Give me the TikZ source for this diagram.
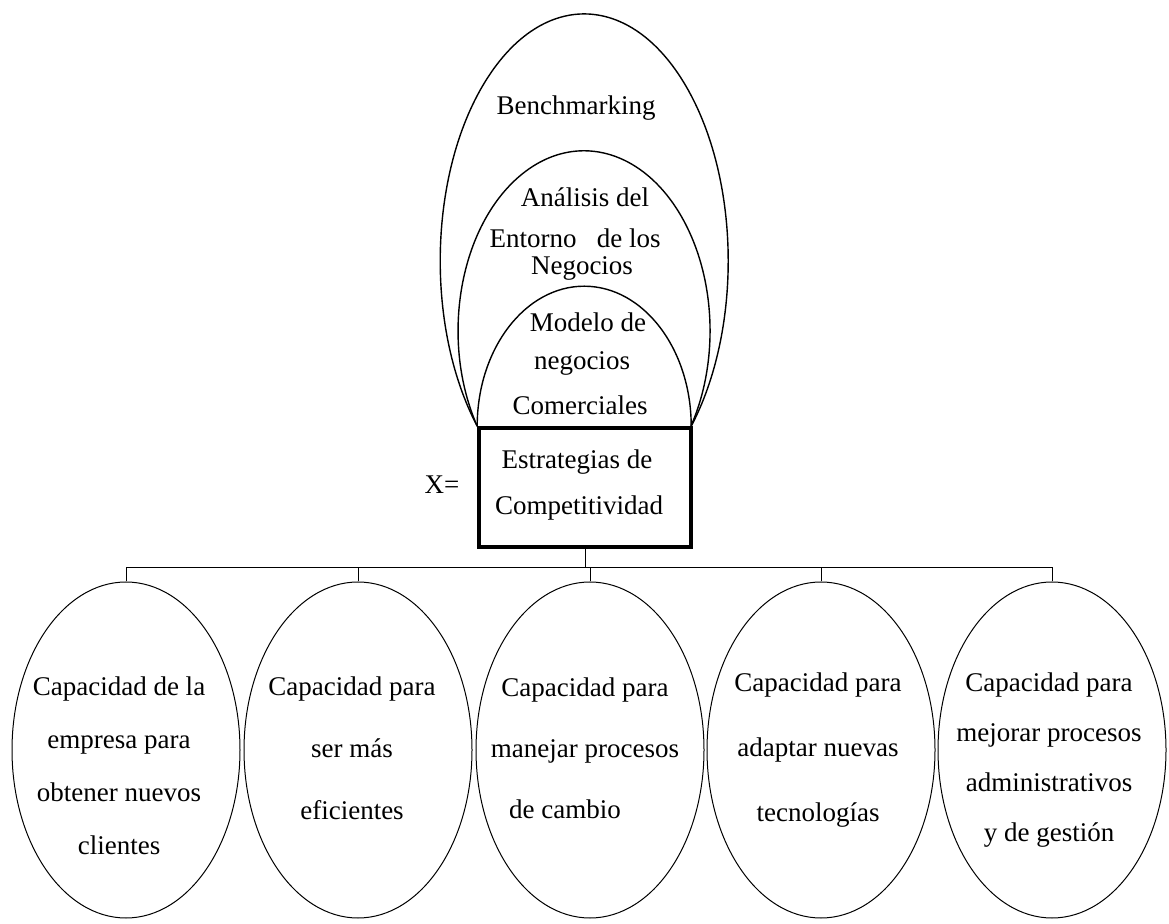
\documentclass[tikz,border=0pt]{standalone}
\usepackage{fontspec}
\setmainfont{Liberation Serif}
\usetikzlibrary{shapes.geometric}
\tikzset{
  capell/.style={draw, ellipse, line width=1pt, inner sep=0pt, minimum width=228pt, minimum height=336pt},
  archline/.style={line width=1.4pt},
  txt/.style={inner sep=0pt, font=\fontsize{27}{32}\selectfont},
  captxt/.style={inner sep=0pt, align=center},
  bus/.style={line width=1pt}
}
\begin{document}
\begin{tikzpicture}[x=1pt,y=1pt]
\useasboundingbox (0,0) rectangle (1169,923);
% central box
\node[draw, line width=3.6pt, minimum width=212pt, minimum height=119pt, inner sep=0pt] (box) at (585,435.5) {};
\node[txt] (est1) at (577,461) {Estrategias de};
\node[txt] (est2) at (579,415) {Competitividad};
\node[txt] (xeq) at (442,438) {X=};
% arches
\draw[archline] (box.north west) arc[start angle=222, end angle=-42, x radius=144, y radius=247];
\draw[archline] (box.north west) arc[start angle=212, end angle=-32, x radius=126, y radius=180];
\draw[archline] (box.north west) arc[start angle=180, end angle=0, x radius=107, y radius=140];
% arch texts
\node[txt] (bm) at (576,815) {Benchmarking};
\node[txt] (an1) at (585,726) {Análisis del};
\node[txt] (an2) at (575,685) {Entorno\ \ \ de los};
\node[txt] (an3) at (582,655) {Negocios};
\node[txt] (mo1) at (588,601) {Modelo de};
\node[txt] (mo2) at (582,560) {negocios};
\node[txt] (mo3) at (580,518) {Comerciales};
% bottom ellipses
\node[capell] (e1) at (126,173) {};
\node[capell] (e2) at (358,173) {};
\node[capell] (e3) at (590,173) {};
\node[capell] (e4) at (821,173) {};
\node[capell] (e5) at (1052,173) {};
% connectors
\coordinate (busc) at (585,355);
\draw[bus] (box.south) -- (busc);
\draw[bus] (e1.north) |- (busc);
\draw[bus] (e2.north) |- (busc);
\draw[bus] (e3.north) |- (busc);
\draw[bus] (e4.north) |- (busc);
\draw[bus] (e5.north) |- (busc);
% ellipse texts
\node[captxt, font=\fontsize{27}{53}\selectfont] (t1) at (119,157) {Capacidad de la\\empresa para\\obtener nuevos\\clientes};
\node[captxt, font=\fontsize{27}{62}\selectfont] (t2) at (352,175) {Capacidad para\\ser más\\eficientes};
\node[captxt, font=\fontsize{27}{61}\selectfont] (t3) at (585,175) {Capacidad para\\manejar procesos\\de cambio\hspace*{40pt}};
\node[captxt, font=\fontsize{27}{65}\selectfont] (t4) at (818,173) {Capacidad para\\adaptar nuevas\\tecnologías};
\node[captxt, font=\fontsize{27}{50}\selectfont] (t5) at (1049,163) {Capacidad para\\mejorar procesos\\administrativos\\y de gestión};
\end{tikzpicture}
\end{document}
